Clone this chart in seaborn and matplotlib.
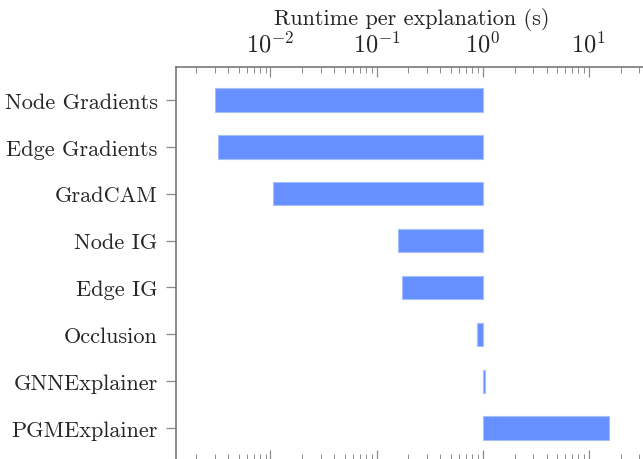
import numpy as np
import pandas as pd
import matplotlib
matplotlib.use("Agg")
import matplotlib.pyplot as plt
import seaborn as sns

# Runtime per explanation (seconds) for each explainer
methods = ["Node Gradients", "Edge Gradients", "GradCAM", "Node IG",
           "Edge IG", "Occlusion", "GNNExplainer", "PGMExplainer"]
runtimes = [0.0030, 0.00318, 0.0106, 0.159, 0.175, 0.878, 1.058, 15.6]

df = pd.DataFrame({"method": methods, "runtime": runtimes})

sns.set_theme(style="white")
plt.rcParams["font.family"] = ["cmr10", "DejaVu Serif"]
plt.rcParams["mathtext.fontset"] = "cm"
plt.rcParams["axes.formatter.use_mathtext"] = True

fig = plt.figure(figsize=(6.43, 4.60), dpi=100)
ax = fig.add_axes([175.7 / 643, -1.0 / 460, (648.5 - 175.7) / 643, (461.0 - 68.3) / 460])

bar_color = "#6690ff"
edge_color = "#a6bfff"
ypos = np.arange(len(df))
# bars grow from 1 s outward on the log axis
ax.barh(ypos, df["runtime"] - 1.0, left=1.0, height=0.5,
        color=bar_color, edgecolor=edge_color, linewidth=0.8)

ax.set_xscale("log")
ax.set_xlim(10 ** -2.893, 10 ** 1.563)
ax.set_ylim(len(df) - 1 + 0.68, -0.696)

ax.set_yticks(ypos)
ax.set_yticklabels(df["method"], fontsize=16)

ax.xaxis.set_ticks_position("both")
ax.xaxis.set_label_position("top")
ax.tick_params(axis="x", which="both", top=True, bottom=True,
               labeltop=True, labelbottom=False, direction="in",
               color="#8c8c8c", labelsize=17.5)
ax.tick_params(axis="x", which="major", length=7, width=0.9, pad=8)
ax.tick_params(axis="x", which="minor", length=4.5, width=0.7)
ax.xaxis.set_minor_locator(matplotlib.ticker.LogLocator(base=10, subs=np.arange(2, 10)))
ax.tick_params(axis="y", which="major", left=True, direction="out",
               length=7, width=0.9, color="#8c8c8c", pad=6)

ax.set_xlabel("Runtime per explanation (s)", fontsize=16, labelpad=5)
ax.set_ylabel("")

for side in ["left", "top"]:
    ax.spines[side].set_color("#6e6e6e")
    ax.spines[side].set_linewidth(1.1)
for side in ["right", "bottom"]:
    ax.spines[side].set_visible(False)

fig.savefig("out.png", dpi=100)
